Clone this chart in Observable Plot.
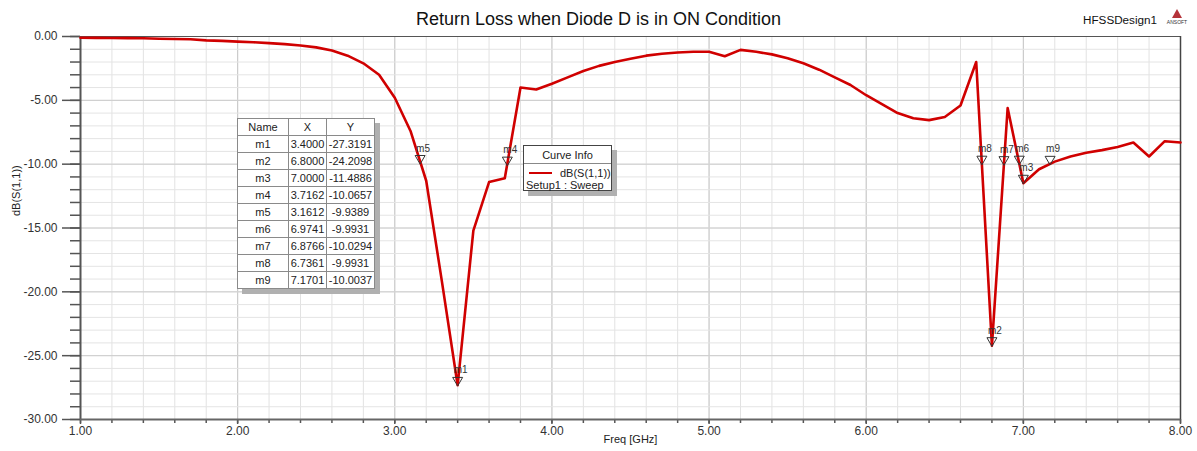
<!DOCTYPE html>
<html>
<head>
<meta charset="utf-8">
<script src="https://cdn.jsdelivr.net/npm/d3@7"></script>
<script src="https://cdn.jsdelivr.net/npm/@observablehq/plot@0.6"></script>
<style>
  body { margin: 0; background: #fff; font-family: "Liberation Sans", Arial, sans-serif; }
  #wrap { position: relative; width: 1197px; height: 451px; overflow: hidden; background: #fff; }
  #title { position: absolute; left: 0; width: 1197px; top: 9px; text-align: center; font-size: 18px; color: #111; }
  #design { position: absolute; left: 1083px; top: 13px; font-size: 11.7px; color: #111; }
  #logo { position: absolute; left: 1166px; top: 9px; width: 22px; text-align: center; }
  #logo .tri { width: 0; height: 0; margin: 0 auto; border-left: 5px solid transparent; border-right: 5px solid transparent; border-bottom: 9px solid #b5333a; }
  #logo .txt { font-size: 5px; color: #333; margin-top: 1px; letter-spacing: 0px; }
  table.mk { position: absolute; left: 237px; top: 118px; border-collapse: collapse; border: 1.5px solid #444; background: #fff; font-size: 11px; color: #222; box-shadow: 5px 5px 0 #b0b0b0; }
  table.mk td { border: 1px solid #8a8a8a; height: 16px; padding: 0 1px; text-align: center; line-height: 15px; }
  #cinfo { position: absolute; left: 523px; top: 145px; width: 87px; height: 44px; border: 1.5px solid #444; background: #fff; box-shadow: 5px 5px 0 #b0b0b0; font-size: 11px; color: #222; box-sizing: content-box; }
  #cinfo .hd { text-align: center; height: 17px; line-height: 18px; border-bottom: 1px solid #888; }
  #cinfo .row { position: relative; height: 12px; line-height: 12px; margin-top: 3px; }
  #cinfo .sw { position: absolute; left: 5px; top: 5px; width: 23px; height: 0; border-top: 2px solid #d00000; }
  #cinfo .nm { position: absolute; left: 36px; top: 0; }
  #cinfo .st { padding-left: 2px; line-height: 12px; }
</style>
</head>
<body>
<div id="wrap">
  <div id="chart"></div>
  <div id="title"></div>
  <div id="design"></div>
  <div id="logo"><div class="tri"></div><div class="txt">ANSOFT</div></div>
  <div id="table"></div>
  <div id="cinfo"></div>
</div>
<script>
// ---- data ----
const freq = [1.0,1.1,1.2,1.3,1.4,1.5,1.6,1.7,1.8,1.9,2.0,2.1,2.2,2.3,2.4,2.5,2.6,2.7,2.8,2.9,
              3.0,3.1,3.2,3.3,3.4,3.5,3.6,3.7,3.8,3.9,4.0,4.1,4.2,4.3,4.4,4.5,4.6,4.7,4.8,4.9,
              5.0,5.1,5.2,5.3,5.4,5.5,5.6,5.7,5.8,5.9,6.0,6.1,6.2,6.3,6.4,6.5,6.6,6.7,6.8,6.9,
              7.0,7.1,7.2,7.3,7.4,7.5,7.6,7.7,7.8,7.9,8.0];
const s11 = [-0.10,-0.11,-0.12,-0.13,-0.14,-0.18,-0.20,-0.22,-0.30,-0.34,-0.40,-0.45,-0.52,-0.60,-0.70,-0.85,-1.10,-1.50,-2.10,-3.00,
             -4.80,-7.40,-11.30,-19.20,-27.3191,-15.20,-11.40,-11.10,-4.00,-4.15,-3.70,-3.20,-2.70,-2.30,-2.00,-1.75,-1.50,-1.35,-1.25,-1.20,
             -1.20,-1.55,-1.05,-1.20,-1.40,-1.70,-2.10,-2.60,-3.20,-3.80,-4.60,-5.30,-6.00,-6.40,-6.55,-6.30,-5.40,-2.00,-24.2098,-5.60,
             -11.4886,-10.40,-9.80,-9.40,-9.10,-8.90,-8.65,-8.30,-9.40,-8.20,-8.30];
const markerNames = ["m1","m2","m3","m4","m5","m6","m7","m8","m9"];
const markerX = [3.4000, 6.8000, 7.0000, 3.7162, 3.1612, 6.9741, 6.8766, 6.7361, 7.1701];
const markerY = [-27.3191, -24.2098, -11.4886, -10.0657, -9.9389, -9.9931, -10.0294, -9.9931, -10.0037];
const xMajorTicks = [1, 2, 3, 4, 5, 6, 7, 8];
const yMajorTicks = [0, -5, -10, -15, -20, -25, -30];
const xMinorTicks = d3.range(0, 36).map(i => 1 + i * 0.2);
const yMinorTicks = d3.range(0, 31).map(i => -i);
const titleText = "Return Loss when Diode D is in ON Condition";
const designText = "HFSSDesign1";
const xLabel = "Freq [GHz]";
const yLabel = "dB(S(1,1))";
const traceName = "dB(S(1,1))";
const setupName = "Setup1 : Sweep";

const curve = freq.map((f, i) => ({f, v: s11[i]}));
const markers = markerNames.map((n, i) => ({n, x: markerX[i], y: markerY[i]}));

const plot = Plot.plot({
  width: 1197,
  height: 451,
  marginLeft: 80,
  marginRight: 17,
  marginTop: 36,
  marginBottom: 32,
  style: {fontFamily: "'Liberation Sans', Arial, sans-serif", background: "#fff", color: "#333"},
  x: {domain: [1, 8]},
  y: {domain: [-30, 0]},
  marks: [
    Plot.gridX(xMinorTicks, {stroke: "#e2e2e2", strokeOpacity: 1}),
    Plot.gridX(xMajorTicks, {stroke: "#c8c8c8", strokeOpacity: 1}),
    Plot.gridY(yMinorTicks, {stroke: "#e4e4e4", strokeOpacity: 1}),
    Plot.gridY(yMajorTicks, {stroke: "#cccccc", strokeOpacity: 1}),
    Plot.axisY(yMinorTicks, {tickSize: 10, tickFormat: () => "", label: null, stroke: "#555", strokeWidth: 1.5}),
    Plot.axisY(yMajorTicks, {tickSize: 18, tickPadding: 5, tickFormat: d => d.toFixed(2), label: null, stroke: "#555", strokeWidth: 1.5, fontSize: 12, fill: "#333"}),
    Plot.axisX(xMinorTicks, {tickSize: 4, tickFormat: () => "", label: null, stroke: "#555", strokeWidth: 1.5}),
    Plot.axisX(xMajorTicks, {tickSize: 5, tickPadding: 2, tickFormat: d => d.toFixed(2), label: null, stroke: "#555", strokeWidth: 1.5, fontSize: 12, fill: "#333"}),
    Plot.ruleY([0], {stroke: "#555", strokeWidth: 1}),
    Plot.ruleX([8], {stroke: "#444", strokeWidth: 1.5}),
    Plot.ruleX([1], {stroke: "#555", strokeWidth: 2}),
    Plot.ruleY([-30], {stroke: "#666", strokeWidth: 2}),
    Plot.line(curve, {x: "f", y: "v", stroke: "#d00000", strokeWidth: 2.6, strokeLinejoin: "round"}),
    Plot.dot(markers, {x: "x", y: "y", symbol: "triangle", rotate: 180, r: 3.7, dy: -5, fill: "none", stroke: "#333", strokeWidth: 1}),
    Plot.text(markers, {x: "x", y: "y", text: "n", textAnchor: "start", dx: -4, dy: -15, fontSize: 10, fill: "#333"}),
    Plot.text([xLabel], {frameAnchor: "bottom", dy: 23, fontSize: 11, fill: "#222"}),
    Plot.text([yLabel], {frameAnchor: "left", dx: -64, dy: -12, rotate: -90, fontSize: 11, fill: "#222"})
  ]
});
document.getElementById("chart").appendChild(plot);

document.getElementById("title").textContent = titleText;
document.getElementById("design").textContent = designText;

// marker table
const tbl = document.createElement("table");
tbl.className = "mk";
const colW = [48, 35, 45];
const header = ["Name", "X", "Y"];
const hr = tbl.insertRow();
header.forEach((h, j) => { const c = hr.insertCell(); c.textContent = h; c.style.width = colW[j] + "px"; });
markers.forEach(m => {
  const r = tbl.insertRow();
  [m.n, m.x.toFixed(4), m.y.toFixed(4)].forEach(t => { const c = r.insertCell(); c.textContent = t; });
});
document.getElementById("table").appendChild(tbl);

// curve info
const ci = document.getElementById("cinfo");
ci.innerHTML = '<div class="hd">Curve Info</div><div class="row"><div class="sw"></div><div class="nm"></div></div><div class="st"></div>';
ci.querySelector(".nm").textContent = traceName;
ci.querySelector(".st").textContent = setupName;
</script>
</body>
</html>
